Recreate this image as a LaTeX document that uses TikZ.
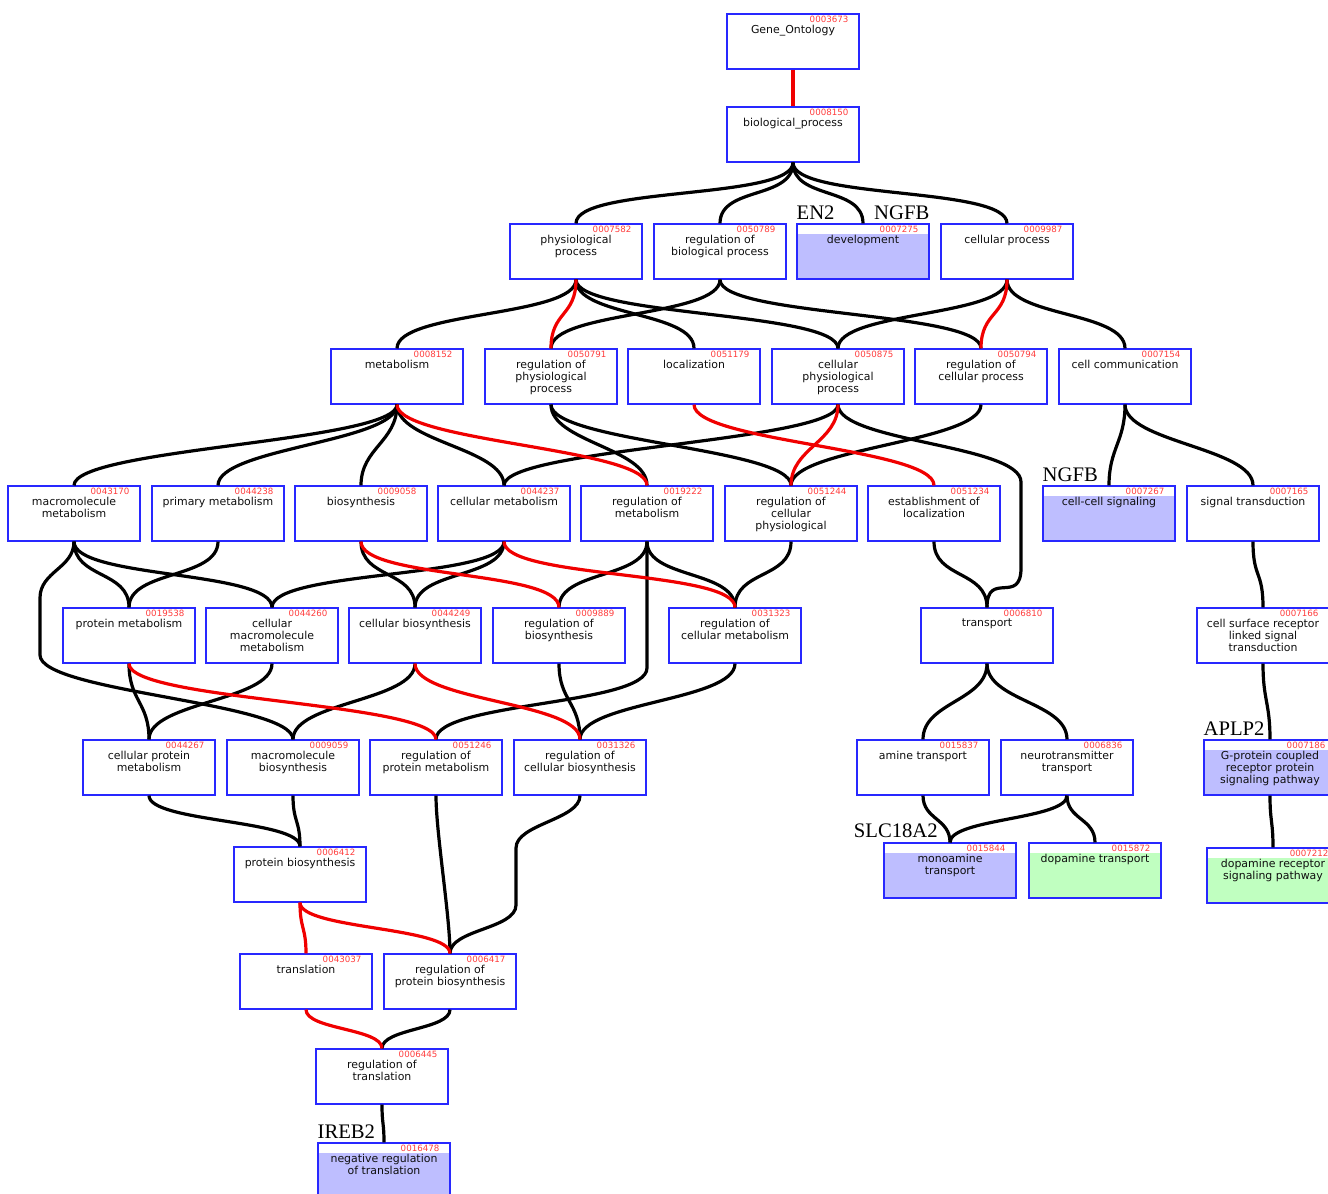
\documentclass[tikz,border=0pt]{standalone}
\usepackage{fontspec}
\setmainfont{DejaVu Sans}
\newfontfamily\genefont{Liberation Serif}
\usepackage{tikz}
\usetikzlibrary{calc}

\definecolor{termblue}{RGB}{40,40,255}
\definecolor{termtext}{RGB}{15,15,15}
\definecolor{idred}{RGB}{255,60,60}
\definecolor{edgered}{RGB}{240,0,0}
\definecolor{hitblue}{RGB}{190,190,255}
\definecolor{hitgreen}{RGB}{192,255,192}

\tikzset{
  term/.style={draw=termblue, line width=0.9pt, minimum width=99pt, minimum height=41.25pt, inner sep=0pt},
  hit/.style={path picture={\fill[#1] ([yshift=-7.5pt]path picture bounding box.north west) rectangle (path picture bounding box.south east);}},
  termlabel/.style={font=\fontsize{8.2}{9}\selectfont, text=termtext, align=center, inner sep=0pt},
  termid/.style={font=\fontsize{6.5}{7}\selectfont, text=idred, inner sep=0pt},
  gene/.style={font=\genefont\fontsize{15.5}{15.5}\selectfont, inner sep=0pt},
  link/.style={line width=2.4pt, out=-90, in=90, distance=#1},
  link/.default=28pt,
}

\newcommand{\goterm}[5][white]{%
  \node[term, hit=#1] (#2) at (#3) {};
  \node[termid, anchor=base east] at ([xshift=-8.25pt,yshift=-6.75pt]#2.north east) {#4};
  \node[termlabel, anchor=north] at ([yshift=-8.5pt]#2.north) {#5};
}

\begin{document}
\begin{tikzpicture}[x=0.75pt, y=-0.75pt]
\useasboundingbox (0,0) rectangle (1328,1194);

\goterm{go}{793,41.5}{0003673}{Gene\_Ontology}
\goterm{bp}{793,134.5}{0008150}{biological\_process}

\goterm{pp}{576,251.5}{0007582}{physiological\\process}
\goterm{rbp}{720,251.5}{0050789}{regulation of\\biological process}
\goterm[hitblue]{dev}{863,251.5}{0007275}{development}
\goterm{cp}{1007,251.5}{0009987}{cellular process}

\goterm{met}{397,376.5}{0008152}{metabolism}
\goterm{rpp}{551,376.5}{0050791}{regulation of\\physiological\\process}
\goterm{loc}{694,376.5}{0051179}{localization}
\goterm{cpp}{838,376.5}{0050875}{cellular\\physiological\\process}
\goterm{rcp}{981,376.5}{0050794}{regulation of\\cellular process}
\goterm{cc}{1125,376.5}{0007154}{cell communication}

\goterm{mm}{74,513.5}{0043170}{macromolecule\\metabolism}
\goterm{pm}{218,513.5}{0044238}{primary metabolism}
\goterm{bio}{361,513.5}{0009058}{biosynthesis}
\goterm{cm}{504,513.5}{0044237}{cellular metabolism}
\goterm{rm}{647,513.5}{0019222}{regulation of\\metabolism}
\goterm{rcph}{791,513.5}{0051244}{regulation of\\cellular\\physiological}
\goterm{el}{934,513.5}{0051234}{establishment of\\localization}
\goterm[hitblue]{ccs}{1109,513.5}{0007267}{cell-cell signaling}
\goterm{st}{1253,513.5}{0007165}{signal transduction}

\goterm{prm}{129,635.5}{0019538}{protein metabolism}
\goterm{cmm}{272,635.5}{0044260}{cellular\\macromolecule\\metabolism}
\goterm{cb}{415,635.5}{0044249}{cellular biosynthesis}
\goterm{rb}{559,635.5}{0009889}{regulation of\\biosynthesis}
\goterm{rcm}{735,635.5}{0031323}{regulation of\\cellular metabolism}
\goterm{tr}{987,635.5}{0006810}{transport}
\goterm{csr}{1263,635.5}{0007166}{cell surface receptor\\linked signal\\transduction}

\goterm{cpm}{149,767.5}{0044267}{cellular protein\\metabolism}
\goterm{mb}{293,767.5}{0009059}{macromolecule\\biosynthesis}
\goterm{rpm}{436,767.5}{0051246}{regulation of\\protein metabolism}
\goterm{rcb}{580,767.5}{0031326}{regulation of\\cellular biosynthesis}
\goterm{at}{923,767.5}{0015837}{amine transport}
\goterm{nt}{1067,767.5}{0006836}{neurotransmitter\\transport}
\goterm[hitblue]{gpc}{1270,767.5}{0007186}{G-protein coupled\\receptor protein\\signaling pathway}

\goterm{pb}{300,874.5}{0006412}{protein biosynthesis}
\goterm[hitblue]{mt}{950,870.5}{0015844}{monoamine\\transport}
\goterm[hitgreen]{dt}{1095,870.5}{0015872}{dopamine transport}
\goterm[hitgreen]{drs}{1273,875.5}{0007212}{dopamine receptor\\signaling pathway}

\goterm{tl}{306,981.5}{0043037}{translation}
\goterm{rpb}{450,981.5}{0006417}{regulation of\\protein biosynthesis}
\goterm{rt}{382,1076.5}{0006445}{regulation of\\translation}
\goterm[hitblue]{nrt}{384,1170.5}{0016478}{negative regulation\\of translation}

\node[gene, anchor=base west] (en2) at ([yshift=3pt]dev.north west) {EN2};
\node[gene, anchor=base east] (ngfb) at ([yshift=3pt]dev.north east) {NGFB};
\node[gene, anchor=base west] (ngfb2) at ([yshift=3pt]ccs.north west) {NGFB};
\node[gene, anchor=base east] (slc) at ([xshift=-9pt,yshift=3.5pt]mt.north) {SLC18A2};
\node[gene, anchor=base west] (aplp) at ([yshift=3pt]gpc.north west) {APLP2};
\node[gene, anchor=base west] (ireb) at ([yshift=3pt]nrt.north west) {IREB2};

\coordinate (cpp-a) at (1021,482);
\coordinate (cpp-b) at (1021,568);
\coordinate (mm-a) at (40,598);
\coordinate (mm-b) at (40,655);
\coordinate (rm-a) at (647,668);
\coordinate (rcb-a) at (516,848);
\coordinate (rcb-b) at (516,905);

\draw[link] (bp.south) to (pp.north);
\draw[link] (bp.south) to (rbp.north);
\draw[link] (bp.south) to (dev.north);
\draw[link] (bp.south) to (cp.north);
\draw[link] (pp.south) to (met.north);
\draw[link] (pp.south) to (loc.north);
\draw[link] (pp.south) to (cpp.north);
\draw[link] (rbp.south) to (rpp.north);
\draw[link] (rbp.south) to (rcp.north);
\draw[link] (cp.south) to (cpp.north);
\draw[link] (cp.south) to (cc.north);
\draw[link] (met.south) to (mm.north);
\draw[link] (met.south) to (pm.north);
\draw[link] (met.south) to (bio.north);
\draw[link] (met.south) to (cm.north);
\draw[link] (rpp.south) to (rm.north);
\draw[link] (rpp.south) to (rcph.north);
\draw[link] (cpp.south) to (cm.north);
\draw[link] (cpp.south) to (cpp-a) -- (cpp-b) to (tr.north);
\draw[link] (rcp.south) to (rcph.north);
\draw[link] (cc.south) to (ccs.north);
\draw[link] (cc.south) to (st.north);
\draw[link] (mm.south) to (prm.north);
\draw[link] (mm.south) to (cmm.north);
\draw[link=20pt] (mm.south) to (mm-a) -- (mm-b) to[link] (mb.north);
\draw[link] (pm.south) to (prm.north);
\draw[link] (bio.south) to (cb.north);
\draw[link] (cm.south) to (cmm.north);
\draw[link] (cm.south) to (cb.north);
\draw[link] (rm.south) to (rb.north);
\draw[link] (rm.south) to (rcm.north);
\draw[link] (rm.south) -- (rm-a) to (rpm.north);
\draw[link] (rcph.south) to (rcm.north);
\draw[link] (el.south) to (tr.north);
\draw[link] (st.south) to (csr.north);
\draw[link] (prm.south) to (cpm.north);
\draw[link] (cmm.south) to (cpm.north);
\draw[link] (cb.south) to (mb.north);
\draw[link] (rb.south) to (rcb.north);
\draw[link] (rcm.south) to (rcb.north);
\draw[link] (tr.south) to (at.north);
\draw[link] (tr.south) to (nt.north);
\draw[link] (csr.south) to (gpc.north);
\draw[link=20pt] (cpm.south) to (pb.north);
\draw[link=20pt] (mb.south) to (pb.north);
\draw[link] (rpm.south) to (rpb.north);
\draw[link=18pt] (rcb.south) to (rcb-a) -- (rcb-b) to (rpb.north);
\draw[link=18pt] (at.south) to (mt.north);
\draw[link=18pt] (nt.south) to (mt.north);
\draw[link=18pt] (nt.south) to (dt.north);
\draw[link=20pt] (gpc.south) to (drs.north);
\draw[link=15pt] (rpb.south) to (rt.north);
\draw[link=15pt] (rt.south) to (nrt.north);

\draw[link, edgered] (go.south) to (bp.north);
\draw[link, edgered] (pp.south) to (rpp.north);
\draw[link, edgered] (cp.south) to (rcp.north);
\draw[link, edgered] (met.south) to (rm.north);
\draw[link, edgered] (loc.south) to (el.north);
\draw[link, edgered] (cpp.south) to (rcph.north);
\draw[link, edgered] (bio.south) to (rb.north);
\draw[link, edgered] (cm.south) to (rcm.north);
\draw[link, edgered] (prm.south) to (rpm.north);
\draw[link, edgered] (cb.south) to (rcb.north);
\draw[link=20pt, edgered] (pb.south) to (tl.north);
\draw[link=20pt, edgered] (pb.south) to (rpb.north);
\draw[link=15pt, edgered] (tl.south) to (rt.north);
\end{tikzpicture}
\end{document}
